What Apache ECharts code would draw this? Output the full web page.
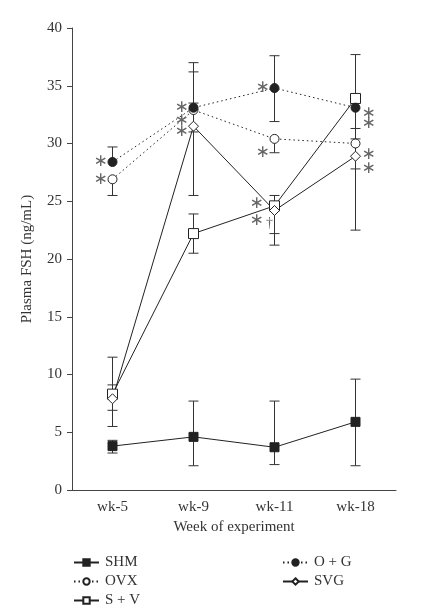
<!DOCTYPE html>
<html><head><meta charset="utf-8">
<script src="https://cdn.jsdelivr.net/npm/echarts@6/dist/echarts.min.js"></script>
<style>html,body{margin:0;padding:0;background:#fff}#c{width:437px;height:613px}</style>
</head><body><div id="c"></div>
<script>
const categories = ['wk-5', 'wk-9', 'wk-11', 'wk-18'];
const yTicks = [0, 5, 10, 15, 20, 25, 30, 35, 40];

const SHM = [3.8, 4.6, 3.7, 5.9];
const OVX = [26.9, 32.9, 30.4, 30.0];
const SV  = [8.3, 22.2, 24.6, 33.9];
const OG  = [28.4, 33.1, 34.8, 33.1];
const SVG = [7.9, 31.5, 24.2, 28.9];

// error bar ends (absolute values; null = not drawn)
const SHM_hi = [4.3, 7.7, 7.7, 9.6],  SHM_lo = [3.2, 2.1, 2.2, 2.1];
const OVX_hi = [null, 36.2, null, 30.4], OVX_lo = [25.5, null, 29.2, null];
const SV_hi  = [11.5, 23.9, 25.5, 37.7], SV_lo  = [5.5, 20.5, 22.2, 22.5];
const OG_hi  = [29.7, 37.0, 37.6, null], OG_lo  = [null, 31.0, 31.9, 31.3];
const SVG_hi = [9.1, 33.5, null, null],  SVG_lo = [6.9, 25.5, 21.2, 27.8];

// significance marks: [category index, value, mark, side]
const marks = [
  [0, 28.4, '∗', 'L'], [0, 26.9, '∗', 'L'],
  [1, 33.1, '∗', 'L'], [1, 32.0, '∗', 'L'], [1, 31.0, '∗', 'L'],
  [2, 34.8, '∗', 'L'], [2, 29.2, '∗', 'L'], [2, 24.8, '∗', 'LL'], [2, 23.3, '∗', 'LL'], [2, 23.1, '†', 'D'],
  [3, 32.6, '∗', 'R'], [3, 31.7, '∗', 'R'], [3, 29.0, '∗', 'R'], [3, 27.8, '∗', 'R']
];

// legend layout: [series name, column, row]
const legendItems = [['SHM', 0, 0], ['OVX', 0, 1], ['S + V', 0, 2], ['O + G', 1, 0], ['SVG', 1, 1]];

const INK = '#222';
const FONT = 'Liberation Serif';
const sideDx = {L: -12, LL: -18, R: 13, D: -5};

function errSeries(vals, hi, lo) {
  return {
    type: 'custom', z: 1, silent: true,
    data: vals.map((v, i) => [i, v]),
    renderItem: function (params, api) {
      const i = params.dataIndex;
      const p = api.coord([i, vals[i]]);
      const ch = [];
      [hi[i], lo[i]].forEach(e => {
        if (e === null || e === undefined) return;
        const q = api.coord([i, e]);
        ch.push({type: 'line', shape: {x1: p[0], y1: p[1], x2: q[0], y2: q[1]}, style: {stroke: '#333', lineWidth: 1}});
        ch.push({type: 'line', shape: {x1: q[0] - 5, y1: q[1], x2: q[0] + 5, y2: q[1]}, style: {stroke: '#333', lineWidth: 1}});
      });
      return {type: 'group', children: ch};
    }
  };
}

function lineSeries(name, vals, symbol, size, filled, dotted) {
  return {
    name: name, type: 'line', z: 3, data: vals,
    symbol: symbol, symbolSize: size, showAllSymbol: true,
    lineStyle: {color: INK, width: 1, type: dotted ? [1.5, 3] : 'solid'},
    itemStyle: {color: filled ? INK : '#fff', borderColor: INK, borderWidth: 1},
    emphasis: {disabled: true}
  };
}

const legendText = {fontFamily: FONT, fontSize: 15, color: '#333', padding: [0, 0, 0, 1]};
const colLeft = [73, 282];
const rowTop = [555, 574, 593];

const chart = echarts.init(document.getElementById('c'));
chart.setOption({
  animation: false,
  backgroundColor: '#fff',
  textStyle: {fontFamily: FONT},
  grid: {left: 72, right: 41, top: 28, bottom: 123},
  xAxis: {
    type: 'category', data: categories, boundaryGap: true,
    name: 'Week of experiment', nameLocation: 'middle', nameGap: 30,
    nameTextStyle: {fontFamily: FONT, fontSize: 15, color: '#333'},
    axisLine: {lineStyle: {color: '#444', width: 1}},
    axisTick: {length: 5, lineStyle: {color: '#444'}},
    axisLabel: {fontFamily: FONT, fontSize: 15, color: '#333', margin: 10}
  },
  yAxis: {
    type: 'value', min: 0, max: 40, interval: 5,
    name: 'Plasma FSH (ng/mL)', nameLocation: 'middle', nameGap: 37,
    nameTextStyle: {fontFamily: FONT, fontSize: 15, color: '#333'},
    axisLine: {show: true, lineStyle: {color: '#444', width: 1}},
    axisTick: {show: true, length: 5, lineStyle: {color: '#444'}},
    splitLine: {show: false},
    axisLabel: {fontFamily: FONT, fontSize: 15, color: '#333', margin: 10,
      formatter: v => yTicks.indexOf(v) >= 0 ? String(v) : ''}
  },
  legend: legendItems.map(it => ({
    data: [it[0]], orient: 'horizontal', left: colLeft[it[1]], top: rowTop[it[2]], padding: 0,
    itemWidth: 25, itemHeight: 8, textStyle: legendText
  })),
  series: [
    errSeries(SHM, SHM_hi, SHM_lo),
    errSeries(OVX, OVX_hi, OVX_lo),
    errSeries(SV, SV_hi, SV_lo),
    errSeries(OG, OG_hi, OG_lo),
    errSeries(SVG, SVG_hi, SVG_lo),
    lineSeries('SHM', SHM, 'rect', 9, true, false),
    lineSeries('OVX', OVX, 'circle', 9, false, true),
    lineSeries('S + V', SV, 'rect', 10, false, false),
    lineSeries('SVG', SVG, 'diamond', [10, 10], false, false),
    lineSeries('O + G', OG, 'circle', 9, true, true),
    {
      type: 'custom', z: 4, silent: true,
      data: marks.map(m => [m[0], m[1]]),
      renderItem: function (params, api) {
        const m = marks[params.dataIndex];
        const p = api.coord([m[0], m[1]]);
        const isDagger = m[2] === '†';
        return {type: 'text', style: {
          x: p[0] + sideDx[m[3]], y: p[1], text: m[2],
          textAlign: 'center', textVerticalAlign: 'middle',
          fontFamily: isDagger ? FONT : 'DejaVu Sans', fontSize: isDagger ? 14 : 17, fill: '#666'
        }};
      }
    }
  ]
});
</script></body></html>
